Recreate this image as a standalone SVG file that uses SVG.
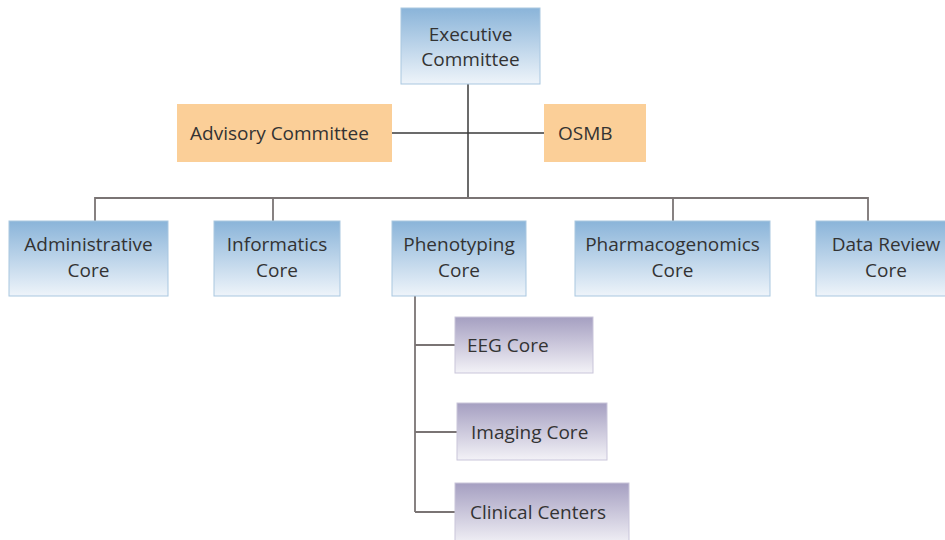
<svg xmlns="http://www.w3.org/2000/svg" width="945" height="540" viewBox="0 0 945 540">
<defs>
<linearGradient id="blue" x1="0" y1="0" x2="0" y2="1">
<stop offset="0" stop-color="#8ab4d9"/>
<stop offset="1" stop-color="#eef4fa"/>
</linearGradient>
<linearGradient id="purple" x1="0" y1="0" x2="0" y2="1">
<stop offset="0" stop-color="#a59fc1"/>
<stop offset="1" stop-color="#f3f2f7"/>
</linearGradient>
<style>
.blue{fill:url(#blue);stroke:#a9c7e0;stroke-width:1}
.orange{fill:#fbcf98}
.purple{fill:url(#purple);stroke:#c9c5da;stroke-width:1}
text{font-family:"Open Sans","Liberation Sans",sans-serif;font-size:19px;fill:#333333}
.c{text-anchor:middle}
.dark{stroke:#3a3a3a;stroke-width:1.5;fill:none}
.gray{stroke:#7a7474;stroke-width:1.8;fill:none}
</style>
</defs>
<rect width="945" height="540" fill="#ffffff"/>
<g id="connectors">
<line class="dark" x1="468" y1="84" x2="468" y2="198"/>
<line class="dark" x1="392" y1="133" x2="544" y2="133"/>
<polyline class="gray" points="95,221 95,198 868,198 868,221"/>
<line class="gray" x1="273" y1="198" x2="273" y2="221"/>
<line class="gray" x1="673" y1="198" x2="673" y2="221"/>
<line class="gray" x1="415" y1="296" x2="415" y2="512"/>
<line class="gray" x1="415" y1="345" x2="455" y2="345"/>
<line class="gray" x1="415" y1="432" x2="457" y2="432"/>
<line class="gray" x1="415" y1="512" x2="455" y2="512"/>
</g>
<g id="executive">
<rect class="blue" x="401" y="8" width="139" height="76"/>
<text class="c" x="470.5" y="41">Executive</text>
<text class="c" x="470.5" y="66">Committee</text>
</g>
<g id="advisory">
<rect class="orange" x="177" y="104" width="215" height="58"/>
<text x="190" y="140">Advisory Committee</text>
</g>
<g id="osmb">
<rect class="orange" x="544" y="104" width="102" height="58"/>
<text x="558" y="140">OSMB</text>
</g>
<g id="administrative">
<rect class="blue" x="9" y="221" width="159" height="75"/>
<text class="c" x="88.5" y="251">Administrative</text>
<text class="c" x="88.5" y="277">Core</text>
</g>
<g id="informatics">
<rect class="blue" x="214" y="221" width="126" height="75"/>
<text class="c" x="277" y="251">Informatics</text>
<text class="c" x="277" y="277">Core</text>
</g>
<g id="phenotyping">
<rect class="blue" x="392" y="221" width="134" height="75"/>
<text class="c" x="459" y="251">Phenotyping</text>
<text class="c" x="459" y="277">Core</text>
</g>
<g id="pharmacogenomics">
<rect class="blue" x="575" y="221" width="195" height="75"/>
<text class="c" x="672.5" y="251">Pharmacogenomics</text>
<text class="c" x="672.5" y="277">Core</text>
</g>
<g id="datareview">
<rect class="blue" x="816" y="221" width="140" height="75"/>
<text class="c" x="886" y="251">Data Review</text>
<text class="c" x="886" y="277">Core</text>
</g>
<g id="eeg">
<rect class="purple" x="455" y="317" width="138" height="56"/>
<text x="467" y="352">EEG Core</text>
</g>
<g id="imaging">
<rect class="purple" x="457" y="403" width="150" height="57"/>
<text x="471" y="439">Imaging Core</text>
</g>
<g id="clinical">
<rect class="purple" x="455" y="483" width="174" height="62"/>
<text x="470" y="519">Clinical Centers</text>
</g>
</svg>
